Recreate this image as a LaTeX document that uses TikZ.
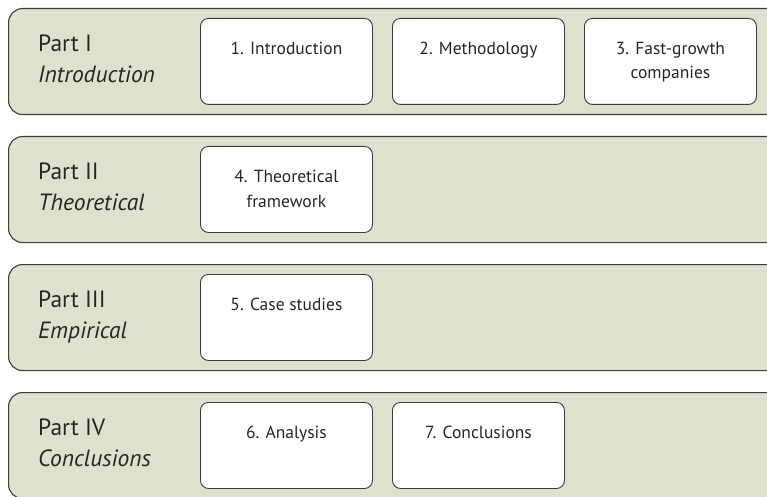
\documentclass[tikz,border=0pt]{standalone}
\usepackage{fontspec}
\setmainfont{PT Sans}
\definecolor{bandfill}{RGB}{221,225,205}
\definecolor{edgegray}{RGB}{60,60,60}

\begin{document}
\begin{tikzpicture}[x=1pt, y=-1pt,
  band/.style={draw=edgegray, line width=1.1pt, fill=bandfill, rounded corners=14pt,
    minimum width=800pt, minimum height=106pt, anchor=north west, inner sep=0pt},
  chapter/.style={draw=edgegray, line width=0.9pt, fill=white, rounded corners=8pt,
    minimum width=172pt, minimum height=86pt, anchor=north west, inner sep=0pt},
  chaptext/.style={anchor=north, align=center, inner sep=0pt,
    font=\fontsize{17.5}{24.5}\selectfont, text=black!85},
  parttext/.style={anchor=north west, align=left, inner sep=0pt,
    font=\fontsize{23.5}{31}\selectfont, text=black!85}]
  \useasboundingbox (0,0) rectangle (767,497);
  \clip (0,0) rectangle (767,497);
  \newcommand{\pitch}{128}

  \foreach \p/\num/\title in {1/I/Introduction, 2/II/Theoretical, 3/III/Empirical, 4/IV/Conclusions} {
    \node[band] (part-\p) at (8,\pitch*\p-\pitch+8) {};
    \node[parttext] (lab-\p) at ([xshift=30pt,yshift=-27pt]part-\p.north west) {Part \num\\\textit{\title}};
  }

  \foreach \p/\c/\n/\txt in {1/1/1/{1. Introduction}, 1/2/2/{2. Methodology},
      1/3/3/{3. Fast-growth\\companies}, 2/1/4/{4. Theoretical\\framework},
      3/1/5/{5. Case studies}, 4/1/6/{6. Analysis}, 4/2/7/{7. Conclusions}} {
    \node[chapter] (ch-\n) at ([xshift=\c*192pt, yshift=-10pt]part-\p.north west) {};
    \node[chaptext] (ch-\n-txt) at ([yshift=-24pt]ch-\n.north) {\txt};
  }

\end{tikzpicture}
\end{document}
